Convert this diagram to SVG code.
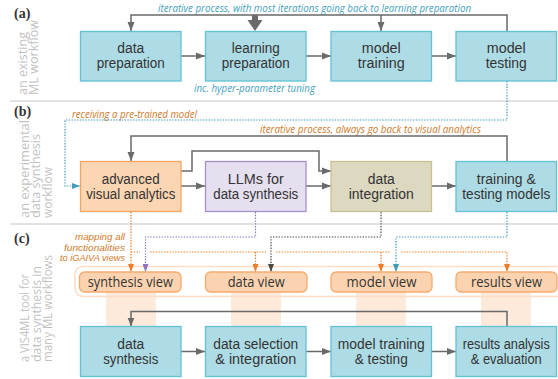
<svg xmlns="http://www.w3.org/2000/svg" width="558" height="379" viewBox="0 0 558 379">
<defs>
<style>
.lbl{font-family:"Liberation Sans",Arial,sans-serif;font-size:14px;fill:#333;text-anchor:middle}
.vlbl{font-family:"Open Sans","Noto Sans",sans-serif;font-size:14px;fill:#333;text-anchor:middle}
.teal{fill:#AEDCE6;stroke:#63C1D6;stroke-width:1.3}
.orng{fill:#FCD5B2;stroke:#F4A660;stroke-width:1.3}
.purp{fill:#E5DFEF;stroke:#A690C9;stroke-width:1.3}
.beig{fill:#DDD8C0;stroke:#C8C092;stroke-width:1.3}
.view{fill:#FCD3B0;stroke:#F5AA6C;stroke-width:1.3}
.band{fill:#FDEADB}
.sep{stroke:#D8D8D8;stroke-width:1.5;fill:none}
.sec{font-family:"Liberation Serif",serif;font-weight:bold;font-size:14px;fill:#333}
.side{font-family:"Open Sans","Noto Sans",sans-serif;font-size:13px;fill:#C2C2C2}
.ann{font-family:"Open Sans","Noto Sans",sans-serif;font-style:italic;font-size:10px}
.ann2{font-family:"Liberation Sans",Arial,sans-serif;font-style:italic;font-size:9.2px}
.annT{fill:#449FC0}
.annO{fill:#CF7A2C}
.solid{fill:none;stroke:#6A6A6A;stroke-width:1.5}
.dot{fill:none;stroke-width:1.2;stroke-dasharray:1.4 1.4}
</style>
<marker id="ah" markerUnits="userSpaceOnUse" markerWidth="9" markerHeight="8" refX="9" refY="4" orient="auto"><path d="M0,0.5 L9,4 L0,7.5 z" fill="#6A6A6A"/></marker>
<marker id="ahT" markerUnits="userSpaceOnUse" markerWidth="8" markerHeight="6" refX="8" refY="3" orient="auto"><path d="M0,0 L8,3 L0,6 z" fill="#3F9CBA"/></marker>
<marker id="ahO" markerUnits="userSpaceOnUse" markerWidth="8" markerHeight="6" refX="8" refY="3" orient="auto"><path d="M0,0 L8,3 L0,6 z" fill="#EE7D25"/></marker>
<marker id="ahP" markerUnits="userSpaceOnUse" markerWidth="8" markerHeight="6" refX="8" refY="3" orient="auto"><path d="M0,0 L8,3 L0,6 z" fill="#8C74BE"/></marker>
<marker id="ahK" markerUnits="userSpaceOnUse" markerWidth="8" markerHeight="6" refX="8" refY="3" orient="auto"><path d="M0,0 L8,3 L0,6 z" fill="#4A4A40"/></marker>
</defs>
<rect width="558" height="379" fill="#fff"/>

<!-- section separators -->
<line class="sep" x1="10" y1="101" x2="558" y2="101"/>
<line class="sep" x1="10" y1="224" x2="558" y2="224"/>

<!-- section labels -->
<text class="sec" x="14" y="18">(a)</text>
<text class="sec" x="14" y="116">(b)</text>
<text class="sec" x="14" y="243">(c)</text>

<!-- side labels -->
<text class="side" transform="rotate(-90)"><tspan x="-95" y="27" textLength="63" lengthAdjust="spacingAndGlyphs">an existing</tspan><tspan x="-95" y="37.5" textLength="75" lengthAdjust="spacingAndGlyphs">ML workflow</tspan></text>
<text class="side" transform="rotate(-90)"><tspan x="-218" y="28.5" textLength="98" lengthAdjust="spacingAndGlyphs">an experimental</tspan><tspan x="-218" y="40" textLength="84" lengthAdjust="spacingAndGlyphs">data synthesis</tspan><tspan x="-218" y="51.5" textLength="51" lengthAdjust="spacingAndGlyphs">workflow</tspan></text>
<text class="side" transform="rotate(-90)"><tspan x="-362" y="29" textLength="88" lengthAdjust="spacingAndGlyphs">a VIS4ML tool for</tspan><tspan x="-362" y="40.5" textLength="96" lengthAdjust="spacingAndGlyphs">data synthesis in</tspan><tspan x="-362" y="52" textLength="107" lengthAdjust="spacingAndGlyphs">many ML workflows</tspan></text>

<!-- annotations -->
<text class="ann annT" x="158" y="12" textLength="313" lengthAdjust="spacingAndGlyphs">iterative process, with most iterations going back to learning preparation</text>
<text class="ann annT" x="194" y="92" textLength="121" lengthAdjust="spacingAndGlyphs">inc. hyper-parameter tuning</text>
<text class="ann annO" x="72" y="118" textLength="125" lengthAdjust="spacingAndGlyphs">receiving a pre-trained model</text>
<text class="ann annO" x="260" y="133" textLength="221" lengthAdjust="spacingAndGlyphs">iterative process, always go back to visual analytics</text>
<text class="ann2 annO" text-anchor="end"><tspan x="125" y="240.3" textLength="50" lengthAdjust="spacingAndGlyphs">mapping all</tspan><tspan x="125" y="250.6" textLength="61" lengthAdjust="spacingAndGlyphs">functionalities</tspan><tspan x="125" y="260.9" textLength="65" lengthAdjust="spacingAndGlyphs">to iGAIVA views</tspan></text>

<!-- bands behind views -->
<rect class="band" x="106" y="292" width="50" height="34"/>
<rect class="band" x="231" y="292" width="50" height="34"/>
<rect class="band" x="356" y="292" width="50" height="34"/>
<rect class="band" x="481" y="292" width="50" height="34"/>
<rect x="75" y="266.5" width="500" height="30" rx="8" fill="none" stroke="#FBDDC8" stroke-width="1.5"/>

<!-- connectors -->
<g id="connectors">
  <!-- (a) -->
  <path class="solid" d="M181,56 H205" marker-end="url(#ah)"/>
  <path class="solid" d="M306,56 H331" marker-end="url(#ah)"/>
  <path class="solid" d="M432,56 H456" marker-end="url(#ah)"/>
  <path class="solid" d="M507,31 V15 H131 V31" marker-end="url(#ah)"/>
  <path class="solid" d="M381,15 V31" marker-end="url(#ah)"/>
  <path d="M252,15 H258 V20 H262.5 L255,31 L247.5,20 H252 z" fill="#6A6A6A"/>
  <!-- (b) -->
  <path class="solid" d="M181,186 H205" marker-end="url(#ah)"/>
  <path class="solid" d="M306,186 H331" marker-end="url(#ah)"/>
  <path class="solid" d="M432,186 H456" marker-end="url(#ah)"/>
  <path class="solid" d="M507,161 V136 H131 V161" marker-end="url(#ah)"/>
  <path class="solid" d="M181,171 H192 V151 H319 V171 H331" marker-end="url(#ah)"/>
  <!-- (c) -->
  <path class="solid" d="M181,351.5 H205" marker-end="url(#ah)"/>
  <path class="solid" d="M306,351.5 H331" marker-end="url(#ah)"/>
  <path class="solid" d="M432,351.5 H456" marker-end="url(#ah)"/>
  <path class="solid" d="M507,326.5 V311.5 H131 V326.5" marker-end="url(#ah)"/>
  <!-- dotted -->
  <path class="dot" stroke="#3F9CBA" d="M507,81 V120 H65 V186 H80" marker-end="url(#ahT)"/>
  <path class="dot" stroke="#EE7D25" d="M131,212 V272" marker-end="url(#ahO)"/>
  <path class="dot" stroke="#8C74BE" d="M255.5,212 V237 H145.5 V272" marker-end="url(#ahP)"/>
  <path class="dot" stroke="#4A4A40" d="M381,212 V237 H271 V272" marker-end="url(#ahK)"/>
  <path class="dot" stroke="#3F9CBA" d="M507,212 V237 H396 V272" marker-end="url(#ahT)"/>
  <path class="dot" stroke="#EE7D25" d="M131,252 H140 M150,252 H266 M276,252 H391 M401,252 H507 V272" marker-end="url(#ahO)"/>
  <path class="dot" stroke="#EE7D25" d="M255.5,252 V272" marker-end="url(#ahO)"/>
  <path class="dot" stroke="#EE7D25" d="M381,252 V272" marker-end="url(#ahO)"/>
</g>

<!-- (a) nodes -->
<g id="data-preparation"><rect class="teal" x="80.5" y="31.5" width="100.5" height="49.5"/>
<text class="lbl"><tspan x="130.75" y="53" textLength="27" lengthAdjust="spacingAndGlyphs">data</tspan><tspan x="130.75" y="68" textLength="68" lengthAdjust="spacingAndGlyphs">preparation</tspan></text></g>
<g id="learning-preparation"><rect class="teal" x="205.5" y="31.5" width="100.5" height="49.5"/>
<text class="lbl"><tspan x="255.75" y="53" textLength="48" lengthAdjust="spacingAndGlyphs">learning</tspan><tspan x="255.75" y="68" textLength="68" lengthAdjust="spacingAndGlyphs">preparation</tspan></text></g>
<g id="model-training"><rect class="teal" x="331" y="31.5" width="100.5" height="49.5"/>
<text class="lbl"><tspan x="381.25" y="53" textLength="39" lengthAdjust="spacingAndGlyphs">model</tspan><tspan x="381.25" y="68" textLength="47" lengthAdjust="spacingAndGlyphs">training</tspan></text></g>
<g id="model-testing"><rect class="teal" x="456" y="31.5" width="100.5" height="49.5"/>
<text class="lbl"><tspan x="506.25" y="53" textLength="39" lengthAdjust="spacingAndGlyphs">model</tspan><tspan x="506.25" y="68" textLength="41" lengthAdjust="spacingAndGlyphs">testing</tspan></text></g>

<!-- (b) nodes -->
<g id="advanced-visual-analytics"><rect class="orng" x="80.5" y="161.5" width="100.5" height="50"/>
<text class="lbl"><tspan x="130.75" y="183.5" textLength="58" lengthAdjust="spacingAndGlyphs">advanced</tspan><tspan x="130.75" y="198.5" textLength="89" lengthAdjust="spacingAndGlyphs">visual analytics</tspan></text></g>
<g id="llms-for-data-synthesis"><rect class="purp" x="205.5" y="161.5" width="100.5" height="50"/>
<text class="lbl"><tspan x="255.75" y="183.5" textLength="56" lengthAdjust="spacingAndGlyphs">LLMs for</tspan><tspan x="255.75" y="198.5" textLength="85" lengthAdjust="spacingAndGlyphs">data synthesis</tspan></text></g>
<g id="data-integration"><rect class="beig" x="331" y="161.5" width="100.5" height="50"/>
<text class="lbl"><tspan x="381.25" y="183.5" textLength="27" lengthAdjust="spacingAndGlyphs">data</tspan><tspan x="381.25" y="198.5" textLength="65" lengthAdjust="spacingAndGlyphs">integration</tspan></text></g>
<g id="training-testing-models"><rect class="teal" x="456" y="161.5" width="100.5" height="50"/>
<text class="lbl"><tspan x="506.25" y="183.5" textLength="59" lengthAdjust="spacingAndGlyphs">training &amp;</tspan><tspan x="506.25" y="198.5" textLength="88" lengthAdjust="spacingAndGlyphs">testing models</tspan></text></g>

<!-- (c) view nodes -->
<g id="synthesis-view"><rect class="view" x="79.5" y="272" width="101.5" height="20" rx="5"/>
<text class="vlbl" x="130.25" y="286.5" textLength="85" lengthAdjust="spacingAndGlyphs">synthesis view</text></g>
<g id="data-view"><rect class="view" x="205.5" y="272" width="101.5" height="20" rx="5"/>
<text class="vlbl" x="256.25" y="286.5" textLength="57" lengthAdjust="spacingAndGlyphs">data view</text></g>
<g id="model-view"><rect class="view" x="331" y="272" width="101" height="20" rx="5"/>
<text class="vlbl" x="381.5" y="286.5" textLength="70" lengthAdjust="spacingAndGlyphs">model view</text></g>
<g id="results-view"><rect class="view" x="456" y="272" width="101" height="20" rx="5"/>
<text class="vlbl" x="506.5" y="286.5" textLength="71" lengthAdjust="spacingAndGlyphs">results view</text></g>

<!-- (c) nodes -->
<g id="data-synthesis"><rect class="teal" x="80.5" y="326.5" width="100.5" height="50"/>
<text class="lbl"><tspan x="130.75" y="349" textLength="27" lengthAdjust="spacingAndGlyphs">data</tspan><tspan x="130.75" y="364" textLength="55" lengthAdjust="spacingAndGlyphs">synthesis</tspan></text></g>
<g id="data-selection-integration"><rect class="teal" x="205.5" y="326.5" width="100.5" height="50"/>
<text class="lbl"><tspan x="255.75" y="349" textLength="85" lengthAdjust="spacingAndGlyphs">data selection</tspan><tspan x="255.75" y="364" textLength="81" lengthAdjust="spacingAndGlyphs">&amp; integration</tspan></text></g>
<g id="model-training-testing"><rect class="teal" x="331" y="326.5" width="100.5" height="50"/>
<text class="lbl"><tspan x="381.25" y="349" textLength="87" lengthAdjust="spacingAndGlyphs">model training</tspan><tspan x="381.25" y="364" textLength="53" lengthAdjust="spacingAndGlyphs">&amp; testing</tspan></text></g>
<g id="results-analysis-evaluation"><rect class="teal" x="456" y="326.5" width="100.5" height="50"/>
<text class="lbl"><tspan x="506.25" y="349" textLength="87" lengthAdjust="spacingAndGlyphs">results analysis</tspan><tspan x="506.25" y="364" textLength="71" lengthAdjust="spacingAndGlyphs">&amp; evaluation</tspan></text></g>
</svg>
